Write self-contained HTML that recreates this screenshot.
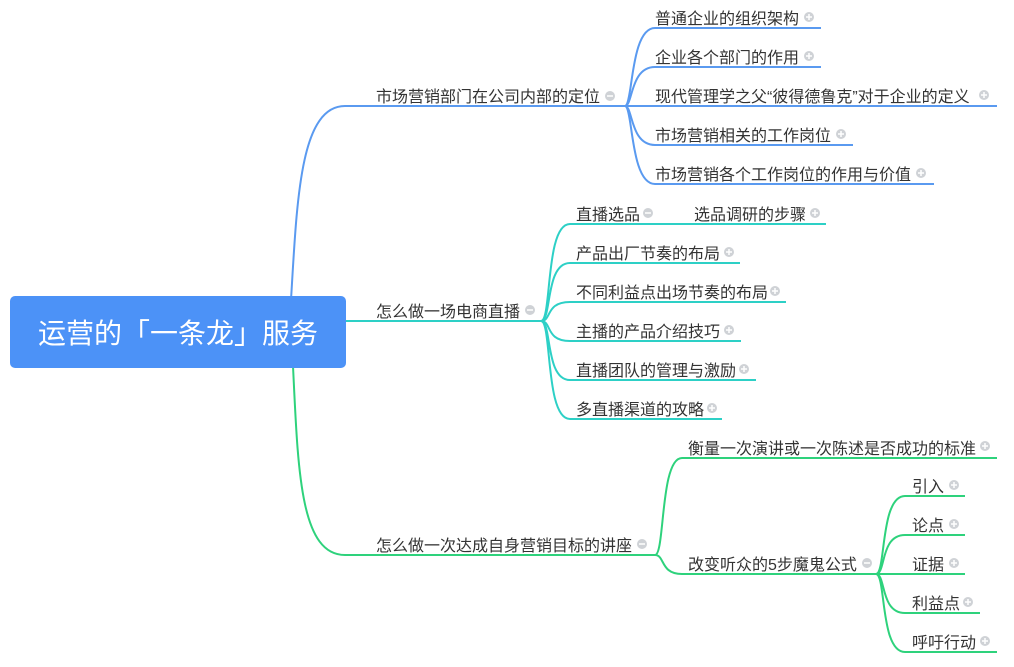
<!DOCTYPE html>
<html><head><meta charset="utf-8"><style>
html,body{margin:0;padding:0;background:#fff;width:1014px;height:667px;overflow:hidden}
svg text{font-family:"Liberation Sans","Noto Sans CJK SC",sans-serif;font-size:16px;fill:#333}
</style></head><body>
<svg width="1014" height="667" viewBox="0 0 1014 667" xmlns="http://www.w3.org/2000/svg">
<defs>
<g id="plus"><circle r="5" fill="#cfd2d6"/><path d="M-3 0H3M0 -3V3" stroke="#fff" stroke-width="1.5"/></g>
<g id="minus"><circle r="5" fill="#cfd2d6"/><path d="M-3 0H3" stroke="#fff" stroke-width="1.5"/></g>
</defs>
<g fill="none" stroke-width="2">
<g stroke="#5a9af0">
<path d="M291 300 C297 200 300 106 345 106 H625"/>
<path d="M625 106 C633 106 630 28 655 28 H821"/>
<path d="M625 106 C633 106 630 67 655 67 H821"/>
<path d="M625 106 H997"/>
<path d="M625 106 C633 106 630 145 655 145 H853"/>
<path d="M625 106 C633 106 630 184 655 184 H934"/>
</g>
<g stroke="#2dd0c6">
<path d="M346 321 H541"/>
<path d="M541 321 C552 321 545 224 570 224 H826"/>
<path d="M541 321 C552 321 545 263 570 263 H740"/>
<path d="M541 321 C552 321 545 302 570 302 H786"/>
<path d="M541 321 C552 321 545 341 570 341 H741"/>
<path d="M541 321 C552 321 545 380 570 380 H756"/>
<path d="M541 321 C552 321 545 419 570 419 H722"/>
</g>
<g stroke="#2ed27c">
<path d="M293 366 C298 470 300 555 345 555 H655"/>
<path d="M655 555 C665 555 660 458 682 458 H997"/>
<path d="M655 555 C665 555 660 574 682 574 H876"/>
<path d="M876 574 C886 574 880 496 905 496 H965"/>
<path d="M876 574 C886 574 880 535 905 535 H965"/>
<path d="M876 574 H965"/>
<path d="M876 574 C886 574 880 613 905 613 H980"/>
<path d="M876 574 C886 574 880 652 905 652 H997"/>
</g>
</g>
<rect x="10" y="296" width="336" height="72" rx="5" fill="#4c92f7"/>
<text x="178" y="343" text-anchor="middle" style="font-size:28px;fill:#fff">运营的「一条龙」服务</text>

<text x="376" y="102">市场营销部门在公司内部的定位</text><use href="#minus" x="610" y="96"/>
<text x="655" y="24">普通企业的组织架构</text><use href="#plus" x="809" y="17"/>
<text x="655" y="63">企业各个部门的作用</text><use href="#plus" x="809" y="56"/>
<text x="655" y="102">现代管理学之父“彼得德鲁克”对于企业的定义</text><use href="#plus" x="984" y="95"/>
<text x="655" y="141">市场营销相关的工作岗位</text><use href="#plus" x="841" y="134"/>
<text x="655" y="180">市场营销各个工作岗位的作用与价值</text><use href="#plus" x="921" y="173"/>

<text x="376" y="317">怎么做一场电商直播</text><use href="#minus" x="530" y="310"/>
<text x="576" y="220">直播选品</text><use href="#minus" x="648" y="213"/>
<text x="694" y="220">选品调研的步骤</text><use href="#plus" x="815" y="213"/>
<text x="576" y="259">产品出厂节奏的布局</text><use href="#plus" x="729" y="252"/>
<text x="576" y="298">不同利益点出场节奏的布局</text><use href="#plus" x="775" y="291"/>
<text x="576" y="337">主播的产品介绍技巧</text><use href="#plus" x="729" y="330"/>
<text x="576" y="376">直播团队的管理与激励</text><use href="#plus" x="744" y="369"/>
<text x="576" y="415">多直播渠道的攻略</text><use href="#plus" x="712" y="408"/>

<text x="376" y="551">怎么做一次达成自身营销目标的讲座</text><use href="#minus" x="642" y="544"/>
<text x="688" y="454">衡量一次演讲或一次陈述是否成功的标准</text><use href="#plus" x="985" y="446"/>
<text x="688" y="570">改变听众的5步魔鬼公式</text><use href="#minus" x="867" y="563"/>
<text x="912" y="492">引入</text><use href="#plus" x="954" y="485"/>
<text x="912" y="531">论点</text><use href="#plus" x="954" y="524"/>
<text x="912" y="570">证据</text><use href="#plus" x="954" y="563"/>
<text x="912" y="609">利益点</text><use href="#plus" x="968" y="602"/>
<text x="912" y="648">呼吁行动</text><use href="#plus" x="985" y="641"/>
</svg>
</body></html>
